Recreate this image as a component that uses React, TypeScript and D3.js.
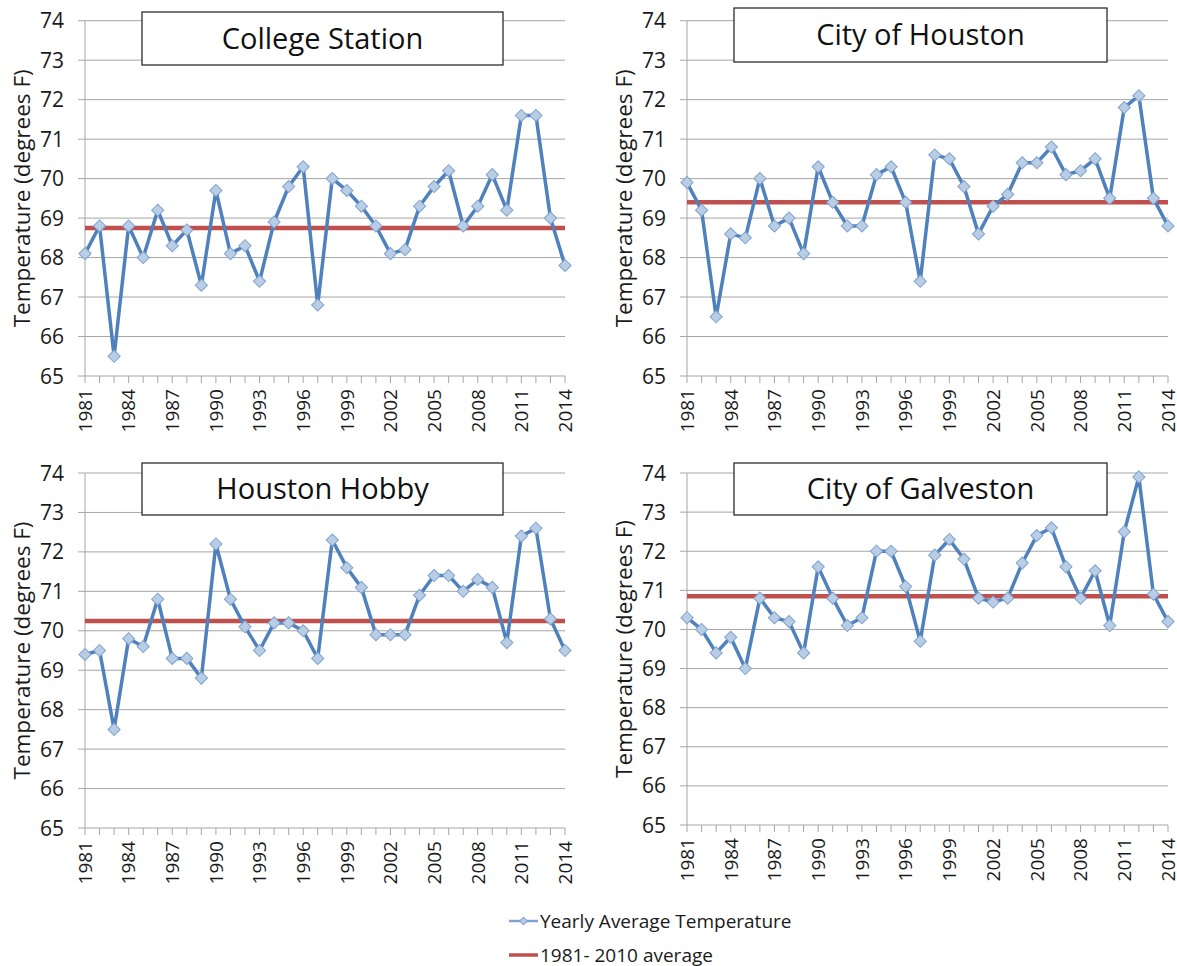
import React, { useEffect, useRef } from "react";
import * as d3 from "d3";

const years = [
  1981, 1982, 1983, 1984, 1985, 1986, 1987, 1988, 1989, 1990, 1991, 1992,
  1993, 1994, 1995, 1996, 1997, 1998, 1999, 2000, 2001, 2002, 2003, 2004,
  2005, 2006, 2007, 2008, 2009, 2010, 2011, 2012, 2013, 2014,
];
const yearLabels = [1981, 1984, 1987, 1990, 1993, 1996, 1999, 2002, 2005, 2008, 2011, 2014];
const tempTicks = [65, 66, 67, 68, 69, 70, 71, 72, 73, 74];

const collegeStation = [
  68.1, 68.8, 65.5, 68.8, 68.0, 69.2, 68.3, 68.7, 67.3, 69.7, 68.1, 68.3, 67.4, 68.9, 69.8, 70.3,
  66.8, 70.0, 69.7, 69.3, 68.8, 68.1, 68.2, 69.3, 69.8, 70.2, 68.8, 69.3, 70.1, 69.2, 71.6, 71.6, 69.0, 67.8,
];
const cityOfHouston = [
  69.9, 69.2, 66.5, 68.6, 68.5, 70.0, 68.8, 69.0, 68.1, 70.3, 69.4, 68.8, 68.8, 70.1, 70.3,
  69.4, 67.4, 70.6, 70.5, 69.8, 68.6, 69.3, 69.6, 70.4, 70.4, 70.8, 70.1, 70.2, 70.5, 69.5, 71.8, 72.1, 69.5, 68.8,
];
const houstonHobby = [
  69.4, 69.5, 67.5, 69.8, 69.6, 70.8, 69.3, 69.3, 68.8, 72.2, 70.8, 70.1, 69.5, 70.2, 70.2,
  70.0, 69.3, 72.3, 71.6, 71.1, 69.9, 69.9, 69.9, 70.9, 71.4, 71.4, 71.0, 71.3, 71.1, 69.7, 72.4, 72.6, 70.3, 69.5,
];
const cityOfGalveston = [
  70.3, 70.0, 69.4, 69.8, 69.0, 70.8, 70.3, 70.2, 69.4, 71.6, 70.8, 70.1, 70.3, 72.0, 72.0,
  71.1, 69.7, 71.9, 72.3, 71.8, 70.8, 70.7, 70.8, 71.7, 72.4, 72.6, 71.6, 70.8, 71.5, 70.1, 72.5, 73.9, 70.9, 70.2,
];
const normals = [68.75, 69.4, 70.25, 70.85];
const stationNames = ["College Station", "City of Houston", "Houston Hobby", "City of Galveston"];
const seriesList = [collegeStation, cityOfHouston, houstonHobby, cityOfGalveston];

// plot frames and title boxes
const frames = [
  { left: 85, right: 565, top: 20.7, bottom: 376, box: [142, 12, 361, 53] },
  { left: 687, right: 1168, top: 20.7, bottom: 376, box: [734, 8, 373, 54] },
  { left: 85, right: 565, top: 473, bottom: 828, box: [142, 463, 361, 52] },
  { left: 687, right: 1168, top: 473, bottom: 825, box: [734, 463, 373, 52] },
];

const FONT = "'Open Sans', 'Liberation Sans', sans-serif";
const BLUE = "#4f81bd";
const RED = "#c0504d";
const TEXT = "#1a1a1a";

export default function App() {
  const ref = useRef<SVGSVGElement | null>(null);

  useEffect(() => {
    const svg = d3.select(ref.current);
    svg.selectAll("*").remove();

    const diamond = d3.symbol().type(d3.symbolSquare).size(74)();

    frames.forEach((f, i) => {
      const data = seriesList[i];
      const x = d3.scaleLinear().domain([years[0], years[years.length - 1]]).range([f.left, f.right]);
      const y = d3.scaleLinear().domain([65, 74]).range([f.bottom, f.top]);
      const g = svg.append("g");

      // gridlines
      g.selectAll("line.grid")
        .data(tempTicks)
        .join("line")
        .attr("x1", f.left - 7)
        .attr("x2", f.right)
        .attr("y1", (d) => y(d))
        .attr("y2", (d) => y(d))
        .attr("stroke", "#a6a6a6")
        .attr("stroke-width", 1);

      // y axis line
      g.append("line")
        .attr("x1", f.left).attr("x2", f.left)
        .attr("y1", f.top).attr("y2", f.bottom)
        .attr("stroke", "#a6a6a6");

      // x ticks
      g.selectAll("line.xt")
        .data(years)
        .join("line")
        .attr("x1", (d) => x(d))
        .attr("x2", (d) => x(d))
        .attr("y1", f.bottom)
        .attr("y2", f.bottom + 7)
        .attr("stroke", "#a6a6a6");

      // y tick labels
      g.selectAll("text.yl")
        .data(tempTicks)
        .join("text")
        .attr("x", f.left - 21)
        .attr("y", (d) => y(d))
        .attr("dy", "0.36em")
        .attr("text-anchor", "end")
        .attr("font-family", FONT)
        .attr("font-size", 21)
        .attr("fill", TEXT)
        .text((d) => d);

      // x labels
      g.selectAll("text.xl")
        .data(yearLabels)
        .join("text")
        .attr("transform", (d) => `translate(${x(d)},${f.bottom + 13}) rotate(-90)`)
        .attr("dy", "0.36em")
        .attr("text-anchor", "end")
        .attr("font-family", FONT)
        .attr("font-size", 19)
        .attr("fill", TEXT)
        .text((d) => d);

      // y title
      g.append("text")
        .attr("transform", `translate(${f.left - 63},${(f.top + f.bottom) / 2}) rotate(-90)`)
        .attr("dy", "0.36em")
        .attr("text-anchor", "middle")
        .attr("font-family", FONT)
        .attr("font-size", 22.5)
        .attr("fill", TEXT)
        .text("Temperature  (degrees  F)");

      // 1981-2010 average
      g.append("line")
        .attr("x1", f.left).attr("x2", f.right)
        .attr("y1", y(normals[i])).attr("y2", y(normals[i]))
        .attr("stroke", RED)
        .attr("stroke-width", 4.5);

      // yearly series
      const line = d3
        .line<number>()
        .x((_, k) => x(years[k]))
        .y((d) => y(d));
      g.append("path")
        .datum(data)
        .attr("fill", "none")
        .attr("stroke", BLUE)
        .attr("stroke-width", 3.5)
        .attr("stroke-linejoin", "round")
        .attr("d", line);

      g.selectAll("path.mk")
        .data(data)
        .join("path")
        .attr("transform", (d, k) => `translate(${x(years[k])},${y(d)}) rotate(45)`)
        .attr("d", diamond)
        .attr("fill", "#b9cde5")
        .attr("stroke", "#7ea3d0")
        .attr("stroke-width", 1);

      // title box
      const [bx, by, bw, bh] = f.box;
      g.append("rect")
        .attr("x", bx).attr("y", by)
        .attr("width", bw).attr("height", bh)
        .attr("fill", "#fff")
        .attr("stroke", "#1a1a1a")
        .attr("stroke-width", 1.2);
      g.append("text")
        .attr("x", bx + bw / 2)
        .attr("y", by + bh / 2)
        .attr("dy", "0.36em")
        .attr("text-anchor", "middle")
        .attr("font-family", FONT)
        .attr("font-size", 29)
        .attr("fill", "#111")
        .text(stationNames[i]);
    });

    // legend
    const lg = svg.append("g").attr("transform", "translate(509,0)");
    lg.append("line").attr("x1", 0).attr("x2", 29).attr("y1", 921).attr("y2", 921)
      .attr("stroke", "#7ea3d0").attr("stroke-width", 2.5);
    lg.append("path")
      .attr("transform", "translate(14.5,921) rotate(45)")
      .attr("d", d3.symbol().type(d3.symbolSquare).size(28)())
      .attr("fill", "#b9cde5").attr("stroke", "#7ea3d0");
    lg.append("text").attr("x", 31).attr("y", 921).attr("dy", "0.36em")
      .attr("font-family", FONT).attr("font-size", 19).attr("fill", TEXT)
      .text("Yearly Average Temperature");
    lg.append("line").attr("x1", 0).attr("x2", 29).attr("y1", 955).attr("y2", 955)
      .attr("stroke", RED).attr("stroke-width", 3.5);
    lg.append("text").attr("x", 31).attr("y", 955).attr("dy", "0.36em")
      .attr("font-family", FONT).attr("font-size", 19).attr("fill", TEXT)
      .text("1981- 2010 average");
  }, []);

  return (
    <svg
      ref={ref}
      width={1177}
      height={966}
      style={{ position: "absolute", left: 0, top: 0, background: "#fff" }}
    />
  );
}
